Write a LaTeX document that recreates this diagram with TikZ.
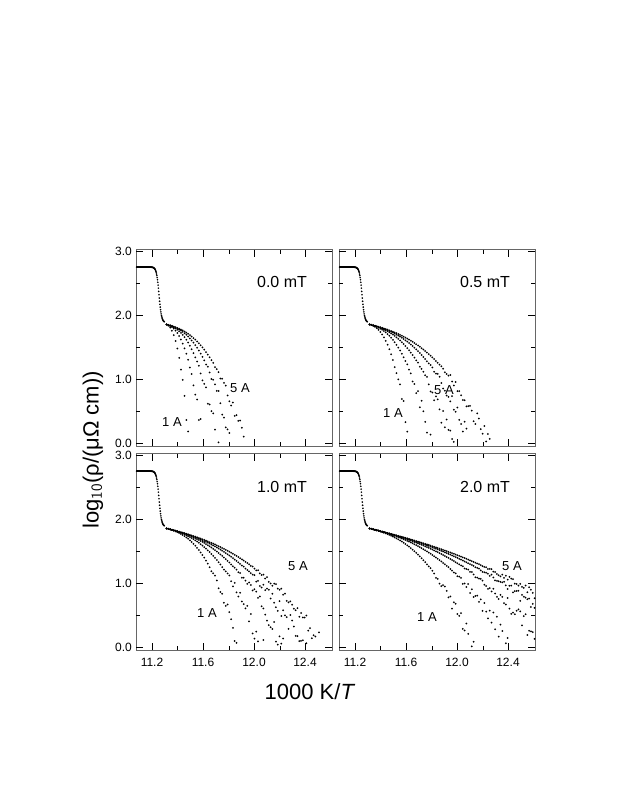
\documentclass[tikz,border=0pt]{standalone}
\usepackage{fontspec}
\setmainfont{Liberation Sans}
\newcommand\pframe[3]{% x0 y0 labels(1/0)
\begin{scope}[shift={(#1pt,-#2pt)},x=128pt,y=64pt]
\draw[gray!80!black,line width=0.8pt] (-0.125,-0.05) rectangle (1.41,3.02);
\foreach \t in {0,0.4,0.8,1.2}{\draw (\t,-0.05) -- ++(0pt,7pt); \draw (\t,3.02) -- ++(0pt,-7pt);}
\foreach \t in {0.2,0.6,1.0}{\draw (\t,-0.05) -- ++(0pt,4pt); \draw (\t,3.02) -- ++(0pt,-4pt);}
\foreach \r in {0,1,2,3}{\draw (-0.125,\r) -- ++(7pt,0pt); \draw (1.41,\r) -- ++(-7pt,0pt);}
\foreach \r in {0.5,1.5,2.5}{\draw (-0.125,\r) -- ++(4pt,0pt); \draw (1.41,\r) -- ++(-4pt,0pt);}
\ifnum#3=1 \foreach \r/\l in {0/0.0,1/1.0,2/2.0,3/3.0}{\node[font=\fontsize{12}{14}\selectfont,anchor=east] (yl\r) at (-0.13,\r) {\l};}\fi
\end{scope}}
\newcommand\pdata[4]{% x0 y0 Lmin Lmax
\begin{scope}[shift={(#1pt,-#2pt)},x=128pt,y=64pt]
\foreach \k in {0,...,90}{\pgfmathsetmacro\t{-0.12+\k*0.0024}
 \pgfmathsetmacro\r{1.88+0.87/(1+exp((\t-0.055)/0.01))}
 \fill (\t,\r) circle[radius=0.9pt];}
\foreach \i in {0,...,4}{\pgfmathsetmacro\L{#3+\i*(#4-#3)/4}
 \foreach \k in {1,...,93}{\pgfmathsetmacro\d{\k*0.014}
  \pgfmathsetmacro\ro{1.86-0.5*\d-1.4*(\d/\L)^2.6}
  \pgfmathsetmacro\r{\ro+rand*0.16*max(0,1.3-\ro)}
  \pgfmathparse{(\r>0.0 && \ro>-0.3)?1:0}
  \ifnum\pgfmathresult=1 \fill (\d+0.1,\r) circle[radius=1pt];\fi}}
\end{scope}}
\begin{document}
\begin{tikzpicture}[x=1pt,y=-1pt]
\pgfmathsetseed{7}
\useasboundingbox (0,0) rectangle (623,806);
\pframe{152}{443}{1}\pframe{355}{443}{0}\pframe{152}{647}{1}\pframe{355}{647}{0}
\pdata{152}{443}{0.17}{0.6}
\pdata{355}{443}{0.3}{0.95}
\pdata{152}{647}{0.55}{1.3}
\pdata{355}{647}{0.8}{2.15}
\tikzset{mt/.style={font=\fontsize{16}{18}\selectfont},amp/.style={font=\fontsize{13}{15}\selectfont}}
\node[mt] (b1) at (282,282) {0.0 mT};
\node[mt] (b2) at (485,282) {0.5 mT};
\node[mt] (b3) at (282,487) {1.0 mT};
\node[mt] (b4) at (485,487) {2.0 mT};
\node[amp] (f1) at (240,388) {5 A}; \node[amp] (o1) at (172,422) {1 A};
\node[amp] (f2) at (444,390) {5 A}; \node[amp] (o2) at (393,413) {1 A};
\node[amp] (f3) at (298,566) {5 A}; \node[amp] (o3) at (207,613) {1 A};
\node[amp] (f4) at (512,566) {5 A}; \node[amp] (o4) at (427,617) {1 A};
\foreach \x/\l [count=\j] in {152/11.2,203/11.6,254/12.0,305/12.4,355/11.2,406/11.6,457/12.0,508/12.4}
 \node[font=\fontsize{12}{14}\selectfont] (xl\j) at (\x,662) {\l};
\node[font=\fontsize{22}{26}\selectfont] (xt) at (310,692) {1000 K/\textit{T}};
\node[font=\fontsize{22}{26}\selectfont,rotate=90] (yt) at (93,450) {log$_{\mathsf{10}}$(ρ/(μΩ cm))};
\end{tikzpicture}
\end{document}
